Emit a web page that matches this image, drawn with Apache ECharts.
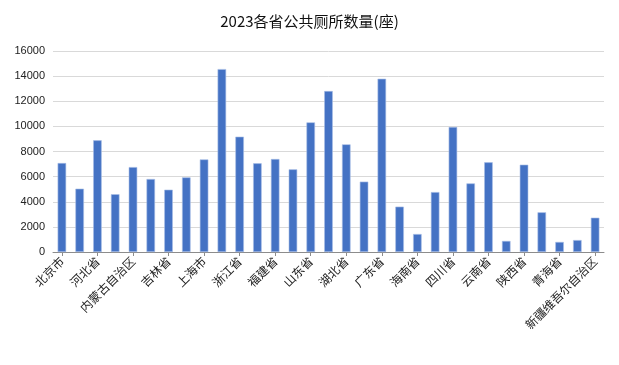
<!DOCTYPE html>
<html><head><meta charset="utf-8">
<script src="https://cdn.jsdelivr.net/npm/echarts@6/dist/echarts.min.js"></script>
<style>html,body{margin:0;padding:0;background:#fff}#c{width:619px;height:365px}</style>
</head><body><div id="c"></div>
<script>
const title = '2023各省公共厕所数量(座)';
const provinces = ['北京市','天津市','河北省','山西省','内蒙古自治区','辽宁省','吉林省','黑龙江省','上海市','江苏省','浙江省','安徽省','福建省','江西省','山东省','河南省','湖北省','湖南省','广东省','广西壮族自治区','海南省','重庆市','四川省','贵州省','云南省','西藏自治区','陕西省','甘肃省','青海省','宁夏回族自治区','新疆维吾尔自治区'];
const toilets = [7080,5040,8890,4600,6760,5810,4960,5940,7370,14560,9180,7060,7400,6580,10320,12810,8570,5600,13790,3610,1430,4770,9950,5460,7140,880,6950,3160,800,950,2730];
const yTicks = {min:0, max:16000, interval:2000};

const chart = echarts.init(document.getElementById('c'));
const font = '"Noto Sans CJK SC", "Noto Sans", sans-serif';
chart.setOption({
  animation:false,
  title:{text:title,left:'center',top:9,textStyle:{fontFamily:font,fontSize:15,fontWeight:'normal',color:'#111'}},
  grid:{left:53,right:15,top:51,bottom:113,containLabel:false},
  xAxis:{type:'category',data:provinces,
    axisLine:{lineStyle:{color:'#8c8c8c'}},
    axisTick:{show:true,alignWithLabel:true,interval:1,length:4,lineStyle:{color:'#8c8c8c'}},
    axisLabel:{interval:1,rotate:45,fontFamily:font,fontSize:12,color:'#222',margin:7}},
  yAxis:{type:'value',min:yTicks.min,max:yTicks.max,interval:yTicks.interval,
    axisLine:{show:false},axisTick:{show:false},
    axisLabel:{fontFamily:'"Liberation Sans", Arial, sans-serif',fontSize:11,color:'#222',margin:8,formatter:v=>String(v)},
    splitLine:{lineStyle:{color:'#d9d9d9'}}},
  series:[{type:'bar',data:toilets,barWidth:'48%',
    itemStyle:{color:'#4472C4',borderColor:'#a8bde6',borderWidth:0.6}}]
});
</script></body></html>
